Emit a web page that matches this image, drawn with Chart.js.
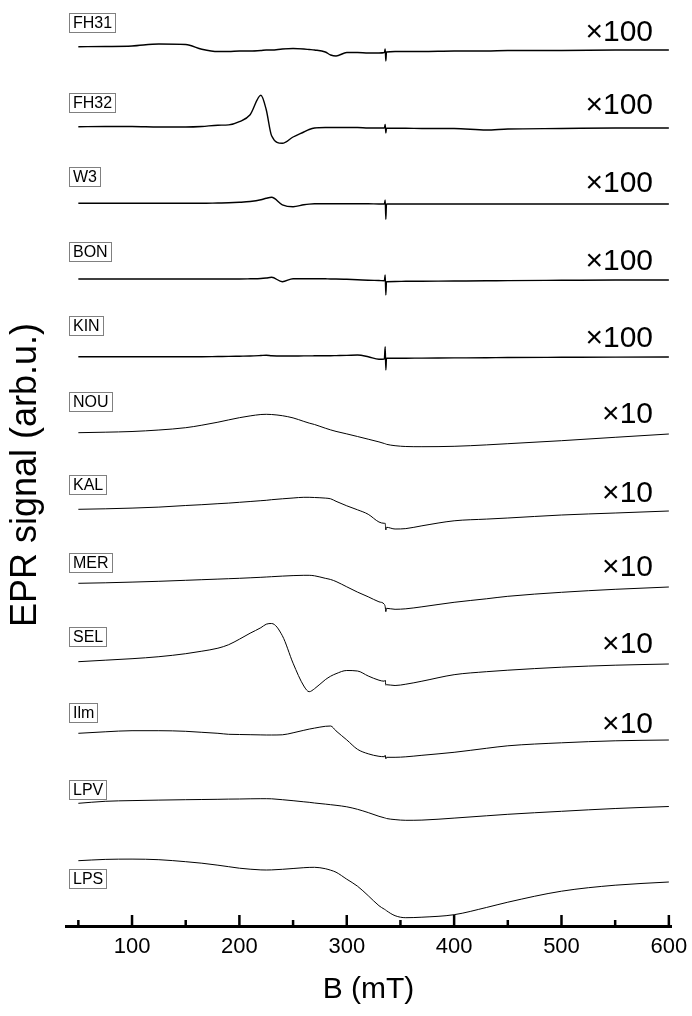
<!DOCTYPE html>
<html>
<head>
<meta charset="utf-8">
<title>EPR spectra</title>
<script src="https://cdn.jsdelivr.net/npm/chart.js@4.4.1/dist/chart.umd.min.js"></script>
<style>
    html, body { margin: 0; padding: 0; background: #fff; }
    #wrap { width: 692px; height: 1016px; }
</style>
</head>
<body>
<div id="wrap"><canvas id="eprChart" width="692" height="1016"></canvas></div>
<script>
// magnetic field grid (mT), shared by every spectrum
const bField = [50, 75, 100, 125, 150, 165, 180, 190, 200, 210, 220, 225, 230, 240, 250, 260, 265, 270, 280, 285,
                290, 300, 310, 320, 330, 335, 335.8, 336.4, 337, 345, 355, 370, 400, 430, 450, 500, 550, 600];

const samples = ['FH31', 'FH32', 'W3', 'BON', 'KIN', 'NOU', 'KAL', 'MER', 'SEL', 'Ilm', 'LPV', 'LPS'];
const gains = ['×100', '×100', '×100', '×100', '×100', '×10', '×10', '×10', '×10', '×10', '', ''];

// x axis tick values (mT)
const tickValues = [50, 100, 150, 200, 250, 300, 350, 400, 450, 500, 550, 600];

// vertical stacking offset of each spectrum (arb.u.)
const offsets = [879.3, 799.3, 722.7, 647, 569.3, 493.3, 416.7, 342.7, 264.3, 192.7, 122.7, 65.3];

// signal of each spectrum relative to its own offset (arb.u.)
const fh31 = [0, 0.2, 0.7, 2.7, 2.2, -2.5, -4.8, -4.8, -4.3, -4.3, -3.8, -3.3, -3.3, -2.3, -1.8, -2.3, -2.8, -3.3, -5.3, -8.3,
              -9.3, -5.8, -5.8, -6.3, -6.3, -5.8, -2.3, -14.3, -5.3, -4.8, -4.8, -4.8, -4.3, -4.3, -3.8, -3.8, -3.3, -3.3];
const fh32 = [0, 0.2, 0.2, -0.3, -0.3, 0.2, 1.5, 1.8, 5, 12, 31.5, 17, -9, -16.6, -10.3, -5.3, -2.8, -1.3, -0.8, -0.8,
              -0.8, -0.8, -0.8, -1.3, -1.3, -1.3, 2.2, -6.3, -1.6, -1.6, -1.6, -1.8, -1.8, -3.3, -2.3, -1.8, -1.3, -1.3];
const w3 = [0, 0, 0, 0, 0, 0, 0.3, 0.5, 1, 1.8, 3.5, 5, 6, -1.5, -3.5, -1.5, -0.8, -0.5, -0.5, -0.5,
            -0.5, -0.5, -0.5, -0.5, -0.7, -0.7, 3.3, -16, -0.7, -0.7, -0.7, -0.7, -0.7, -0.7, -0.7, -0.7, -0.7, -0.7];
const bon = [0, 0, 0, 0, 0, 0, 0, 0, 0, 0.2, 0.5, 1, 1.7, -2.7, 0.3, 0.3, 0.3, 0.3, 0.2, 0,
             0, -0.3, -0.7, -1.2, -1.5, -1.7, 4, -16, -2.7, -2.5, -2.3, -2.2, -2, -1.8, -1.6, -1.3, -1, -1];
const kin = [0, 0, 0, 0, 0, 0, 0.2, 0.3, 0.5, 0.7, 1.2, 1.5, 1, 0.7, 0.7, 0.8, 0.8, 0.9, 1, 1,
             1.1, 1.3, 1.7, 0, -2.6, -2.3, 10, -13.3, -1.6, -1.6, -1.5, -1.4, -1.2, -1, -0.8, -0.6, -0.4, -0.3];
const nou = [0, 0.5, 1.2, 2.7, 5, 7.5, 10.5, 12.8, 15, 16.8, 18.2, 18.4, 18.2, 17, 14.8, 11.3, 9.6, 8.2, 4.5, 2.8,
             1.3, -1.2, -3.8, -6.5, -9.2, -10.8, -11, -11.4, -11.6, -13, -13.8, -14, -13.6, -12.2, -11, -8, -4.6, -1.3];
const kal = [0, 0.5, 1.2, 2.2, 3.8, 4.6, 5.6, 6.2, 7, 7.8, 8.6, 9, 9.6, 10.5, 11.3, 12, 12, 11.8, 11.2, 10.5,
             8, 3.5, -0.5, -5, -12.7, -14, -14, -20.7, -18, -19.7, -19.3, -16.5, -11.5, -9.8, -8.7, -5.7, -3.7, -1.7];
const mer = [0, 0.5, 1.2, 2, 3, 3.6, 4.2, 4.6, 5, 5.5, 6, 6.3, 6.6, 7.2, 7.7, 8, 8, 7.5, 5, 3.8,
             1.8, -3.5, -8.8, -13.5, -18.5, -21, -23.4, -28.4, -25, -26, -25.5, -23.5, -19, -15.5, -13, -9, -6, -3.7];
const sel = [0, 1.5, 3, 5, 8, 10.5, 13.5, 17, 22.5, 28.5, 34, 37.5, 38.2, 26, -1.5, -24.3, -30, -27, -18, -14.5,
             -12, -8.8, -9.3, -14.3, -18.5, -19.5, -18.5, -23.5, -23, -23.8, -22.5, -19.5, -13, -10, -8.5, -5.5, -3.5, -2.3];
const ilm = [0, 1.5, 2.6, 2.6, 2, 1, 0, -1, -1.2, -1.4, -1.6, -1.7, -1.7, -1.5, 0.5, 3, 4.2, 5.2, 7, 7.3,
             2.4, -6.6, -16, -20.5, -23, -23.4, -22, -25.5, -24, -24, -23.5, -22, -19, -15, -12.5, -9.5, -7.5, -6.7];
const lpv = [0, 2, 2.7, 3.2, 3.6, 3.8, 4, 4.2, 4.3, 4.5, 4.6, 4.6, 4.5, 3.6, 2.6, 1.5, 1, 0.3, -0.8, -1.4,
             -2, -3.5, -6, -9.3, -13, -14.5, -14.7, -15, -15.2, -16.3, -17, -16.8, -14.8, -12.5, -11, -8, -5.2, -3.2];
const lps = [0, 1.3, 1.6, 1, -1, -2.5, -4.5, -6, -7.5, -8.5, -9.2, -9.3, -9.2, -8.6, -7.8, -7, -6.7, -6.6, -8, -9.5,
             -11.5, -18.5, -25.5, -35, -45, -48.5, -49, -49.5, -50, -55, -57, -56.5, -54, -46.8, -41.5, -30.5, -24.5, -21.3];

const signals = [fh31, fh32, w3, bon, kin, nou, kal, mer, sel, ilm, lpv, lps];

// layout of the sample tags and gain labels (pixels)
const tagTop = [13, 93, 167, 242, 316, 392, 475, 553, 627, 703, 780, 869];
const gainBase = [41, 114, 192, 270, 347, 423, 502, 576, 653, 733];

const FONT = '"Liberation Sans", Arial, Helvetica, sans-serif';

const datasets = samples.map((name, i) => ({
    label: name,
    data: bField.map((b, j) => ({ x: b, y: offsets[i] + signals[i][j] })),
    borderColor: '#000',
    borderWidth: i < 5 ? 1.4 : 1,
    pointRadius: 0,
    fill: false,
    cubicInterpolationMode: 'monotone'
}));

// sample names in boxes, gain factors, inward axis ticks
const decorations = {
    id: 'decorations',
    afterDraw(chart) {
        const ctx = chart.ctx;
        const x = chart.scales.x;
        ctx.save();

        ctx.font = '16px ' + FONT;
        ctx.textBaseline = 'middle';
        ctx.textAlign = 'left';
        samples.forEach((name, i) => {
            const w = Math.round(ctx.measureText(name).width) + 7;
            ctx.strokeStyle = '#808080';
            ctx.lineWidth = 1;
            ctx.strokeRect(69.5, tagTop[i] + 0.5, w, 19);
            ctx.fillStyle = '#000';
            ctx.fillText(name, 73, tagTop[i] + 10.5);
        });

        ctx.font = '30px ' + FONT;
        ctx.textAlign = 'right';
        ctx.textBaseline = 'alphabetic';
        gains.forEach((g, i) => {
            if (g) ctx.fillText(g, 653, gainBase[i]);
        });

        ctx.strokeStyle = '#000';
        ctx.lineWidth = 2.5;
        x.ticks.forEach(t => {
            const px = x.getPixelForValue(t.value);
            const len = t.value % 100 === 0 ? 11 : 6;
            ctx.beginPath();
            ctx.moveTo(px, chart.chartArea.bottom);
            ctx.lineTo(px, chart.chartArea.bottom - len);
            ctx.stroke();
        });
        ctx.restore();
    }
};

new Chart(document.getElementById('eprChart'), {
    type: 'line',
    data: { datasets },
    options: {
        responsive: false,
        animation: false,
        layout: { padding: { top: 24, right: 21, bottom: 0, left: 0 } },
        plugins: { legend: { display: false }, tooltip: { enabled: false } },
        scales: {
            x: {
                type: 'linear',
                min: 38.5,
                max: 602,
                afterBuildTicks: scale => { scale.ticks = tickValues.map(v => ({ value: v })); },
                afterFit: scale => {
                    scale.height = 90;
                    // let the last label hang past the plot edge, as in the original
                    scale.paddingLeft = 0;
                    scale.paddingRight = 0;
                },
                grid: { display: false, drawTicks: false },
                border: { display: true, color: '#000', width: 3 },
                ticks: {
                    autoSkip: false,
                    maxRotation: 0,
                    padding: 8,
                    color: '#000',
                    font: { family: FONT, size: 22 },
                    callback: v => (v % 100 === 0 ? v : '')
                },
                title: {
                    display: true,
                    text: 'B (mT)',
                    color: '#000',
                    font: { family: FONT, size: 30 },
                    padding: { top: 0, bottom: 8 }
                }
            },
            y: {
                min: 0,
                max: 902,
                afterFit: scale => { scale.width = 66; },
                grid: { display: false, drawTicks: false },
                border: { display: false },
                ticks: { display: false },
                title: {
                    display: true,
                    text: 'EPR signal (arb.u.)',
                    color: '#000',
                    font: { family: FONT, size: 36 },
                    padding: { top: 4, bottom: 0 }
                }
            }
        }
    },
    plugins: [decorations]
});
</script>
</body>
</html>
